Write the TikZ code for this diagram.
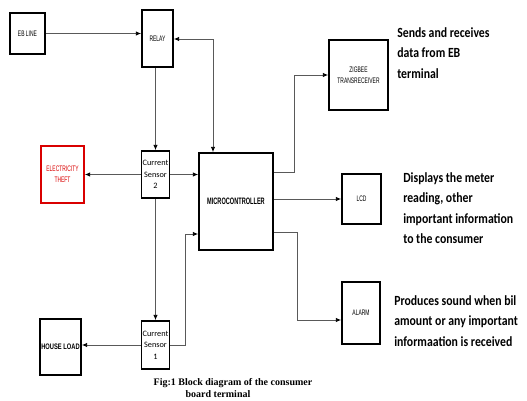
\documentclass[tikz,border=0pt]{standalone}
\usepackage{fontspec}
\usepackage{graphicx}
\setmainfont{Liberation Serif}
\newfontfamily\carfont{Carlito}
\newfontfamily\carsq[FakeStretch=0.84]{Carlito}
\newfontfamily\ars{Liberation Sans}
\usetikzlibrary{arrows.meta,calc}
\newcommand{\cnd}[1]{\scalebox{0.62}[1]{#1}}
\begin{document}
\begin{tikzpicture}[x=0.75pt,y=-0.75pt,
  blk/.style={draw=black,line width=1.3pt,inner sep=0pt,align=center,font=\ars\fontsize{6}{8}\selectfont},
  wire/.style={draw=black!65,line width=0.7pt},
  arr/.style={wire,-{Latex[length=4pt,width=3.5pt,black]}},
  note/.style={font=\carsq\bfseries\fontsize{10.5}{15.4}\selectfont,align=left,anchor=north west,inner sep=0pt}]
\useasboundingbox (0,0) rectangle (527,400);
% boxes
\node[blk,minimum width=26.25pt,minimum height=30.75pt] (eb) at (27.5,33.5) {\cnd{EB LINE}};
\node[blk,minimum width=23.25pt,minimum height=42.75pt] (relay) at (157.5,38.5) {\cnd{RELAY}};
\node[blk,minimum width=21pt,minimum height=35.25pt,font=\carfont\fontsize{6.2}{8.6}\selectfont] (cs2) at (155.5,174.5) {Current\\Sensor\\2};
\node[blk,draw=red!85!black,text=red!85!black,minimum width=32.25pt,minimum height=42.75pt] (theft) at (62.5,174.5) {\cnd{ELECTRICITY}\\\cnd{THEFT}};
\node[blk,minimum width=55.5pt,minimum height=72.75pt,font=\ars\bfseries\fontsize{7}{8}\selectfont] (mc) at (236,201.5) {\scalebox{0.6}[1]{MICROCONTROLLER}};
\node[blk,minimum width=21pt,minimum height=36pt,font=\carfont\fontsize{6.2}{8.6}\selectfont] (cs1) at (155.5,345) {Current\\Sensor\\1};
\node[blk,minimum width=30.75pt,minimum height=42pt,font=\ars\bfseries\fontsize{6}{8}\selectfont] (house) at (60.5,347) {\scalebox{0.72}[1]{HOUSE LOAD}};
\node[blk,minimum width=44.25pt,minimum height=52.5pt] (zig) at (358.5,75) {\cnd{ZIGBEE}\\\cnd{TRANSRECEIVER}};
\node[blk,minimum width=29.25pt,minimum height=37.5pt] (lcd) at (361.5,199) {\cnd{LCD}};
\node[blk,minimum width=28.5pt,minimum height=46.5pt] (alarm) at (361,313) {\cnd{ALARM}};
% connectors
\draw[arr] (eb.east) -- (eb.east -| relay.west);
\coordinate (rt) at (213,39);
\draw[wire,{Latex[length=4pt,width=3.5pt,black]}-{Latex[length=4pt,width=3.5pt,black]}] (relay.east |- rt) -- (rt) -- (rt |- mc.north);
\draw[arr] (relay.south -| cs2.north) -- (cs2.north);
\draw[arr] (cs2.west) -- (theft.east);
\draw[arr] (cs2.east) -- (cs2.east -| mc.west);
\draw[arr] (cs2.south) -- (cs2.south |- cs1.north);
\draw[arr] (cs1.west) -- (cs1.west -| house.east);
\coordinate (k) at (185,234);
\draw[arr] (cs1.east) -| (k) -- (k -| mc.west);
\coordinate (z) at (294,75);
\draw[arr] (mc.east |- 0,172) -| (z) -- (zig.west);
\draw[arr] (mc.east |- lcd.west) -- (lcd.west);
\coordinate (al) at (297,320);
\draw[arr] (mc.east |- 0,232) -| (al) -- (al -| alarm.west);
% notes
\node[note] (n1) at (397,27) {Sends and receives\\data from EB\\terminal};
\node[note] (n2) at (403,172) {Displays the meter\\reading, other\\important information\\to the consumer};
\node[note] (n3) at (394,295) {Produces sound when bil\\amount or any important\\informaation is received};
\node[font=\bfseries\fontsize{7.5}{9}\selectfont,inner sep=0pt] (cap1) at (233,383) {Fig:1 Block diagram of the consumer};
\node[font=\bfseries\fontsize{7.5}{9}\selectfont,inner sep=0pt] (cap2) at (218,394) {board terminal};
\end{tikzpicture}
\end{document}
